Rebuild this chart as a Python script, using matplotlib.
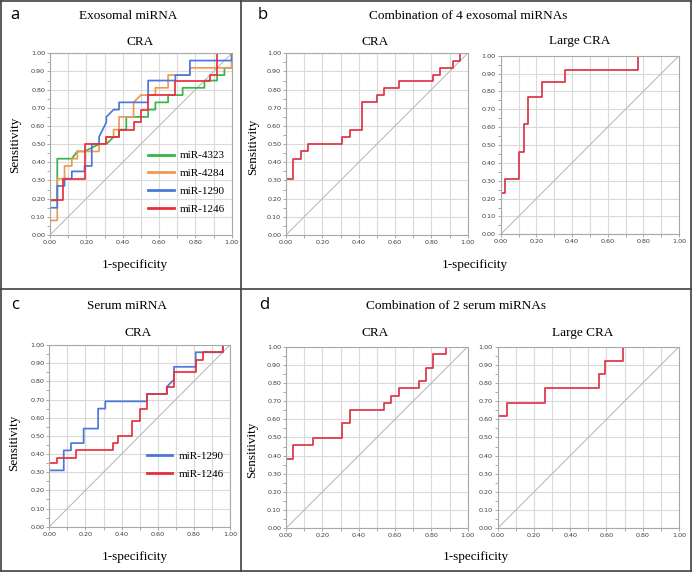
import numpy as np
import matplotlib
matplotlib.use('Agg')
import matplotlib.pyplot as plt
from matplotlib.lines import Line2D
from matplotlib.ticker import MultipleLocator, FormatStrFormatter

# ---- data (ROC step curves) ----
# panel a: exosomal miRNA, CRA
a_4323_x = [0, 0.04, 0.04, 0.12, 0.15, 0.19, 0.27, 0.31, 0.35, 0.38, 0.38, 0.42, 0.42, 0.54, 0.54, 0.58, 0.58, 0.65, 0.65, 0.73, 0.73, 0.85, 0.85, 0.92, 0.92, 0.96, 0.96, 1.0, 1.0]
a_4323_y = [0.19, 0.19, 0.42, 0.42, 0.46, 0.46, 0.50, 0.50, 0.54, 0.54, 0.58, 0.58, 0.65, 0.65, 0.69, 0.69, 0.73, 0.73, 0.77, 0.77, 0.81, 0.81, 0.85, 0.85, 0.88, 0.88, 0.92, 0.92, 1.0]
a_4284_x = [0, 0.04, 0.04, 0.08, 0.08, 0.12, 0.12, 0.15, 0.15, 0.27, 0.27, 0.31, 0.31, 0.35, 0.35, 0.38, 0.38, 0.46, 0.46, 0.50, 0.58, 0.58, 0.65, 0.65, 0.77, 0.77, 1.0, 1.0]
a_4284_y = [0.08, 0.08, 0.31, 0.31, 0.38, 0.38, 0.42, 0.42, 0.46, 0.46, 0.50, 0.50, 0.54, 0.54, 0.58, 0.58, 0.65, 0.65, 0.73, 0.77, 0.77, 0.81, 0.81, 0.88, 0.88, 0.92, 0.92, 1.0]
a_1290_x = [0, 0.04, 0.04, 0.08, 0.08, 0.12, 0.12, 0.19, 0.19, 0.23, 0.23, 0.27, 0.27, 0.31, 0.31, 0.35, 0.38, 0.38, 0.54, 0.54, 0.69, 0.69, 0.77, 0.77, 1.0, 1.0]
a_1290_y = [0.15, 0.15, 0.27, 0.27, 0.31, 0.31, 0.35, 0.35, 0.38, 0.38, 0.50, 0.50, 0.54, 0.62, 0.65, 0.69, 0.69, 0.73, 0.73, 0.85, 0.85, 0.88, 0.88, 0.96, 0.96, 1.0]
a_1246_x = [0, 0.07, 0.07, 0.19, 0.19, 0.31, 0.31, 0.38, 0.38, 0.46, 0.46, 0.50, 0.50, 0.54, 0.54, 0.69, 0.69, 0.88, 0.88, 0.92, 0.92, 1.0]
a_1246_y = [0.19, 0.19, 0.31, 0.31, 0.50, 0.50, 0.54, 0.54, 0.58, 0.58, 0.62, 0.62, 0.69, 0.69, 0.77, 0.77, 0.85, 0.85, 0.88, 0.88, 1.0, 1.0]

# panel b: combination of 4 exosomal miRNAs
b_cra_x = [0, 0.04, 0.04, 0.08, 0.08, 0.12, 0.12, 0.31, 0.31, 0.35, 0.35, 0.42, 0.42, 0.50, 0.50, 0.54, 0.54, 0.62, 0.62, 0.81, 0.81, 0.85, 0.85, 0.92, 0.92, 0.96, 0.96]
b_cra_y = [0.31, 0.31, 0.42, 0.42, 0.46, 0.46, 0.50, 0.50, 0.54, 0.54, 0.58, 0.58, 0.73, 0.73, 0.77, 0.77, 0.81, 0.81, 0.85, 0.85, 0.88, 0.88, 0.92, 0.92, 0.96, 0.96, 1.0]
b_large_x = [0, 0.026, 0.026, 0.103, 0.103, 0.128, 0.128, 0.154, 0.154, 0.23, 0.23, 0.36, 0.36, 0.77, 0.77]
b_large_y = [0.23, 0.23, 0.31, 0.31, 0.46, 0.46, 0.62, 0.62, 0.77, 0.77, 0.85, 0.85, 0.92, 0.92, 1.0]

# panel c: serum miRNA, CRA
c_1290_x = [0, 0.08, 0.08, 0.12, 0.12, 0.19, 0.19, 0.27, 0.27, 0.31, 0.31, 0.54, 0.54, 0.65, 0.65, 0.69, 0.69, 0.81, 0.81, 0.96, 0.96]
c_1290_y = [0.31, 0.31, 0.42, 0.42, 0.46, 0.46, 0.54, 0.54, 0.65, 0.65, 0.69, 0.69, 0.73, 0.73, 0.77, 0.81, 0.88, 0.88, 0.96, 0.96, 1.0]
c_1246_x = [0, 0.04, 0.04, 0.15, 0.15, 0.35, 0.35, 0.38, 0.38, 0.46, 0.46, 0.50, 0.50, 0.54, 0.54, 0.65, 0.65, 0.69, 0.69, 0.81, 0.81, 0.85, 0.85, 0.96, 0.96]
c_1246_y = [0.35, 0.35, 0.38, 0.38, 0.42, 0.42, 0.46, 0.46, 0.50, 0.50, 0.58, 0.58, 0.65, 0.65, 0.73, 0.73, 0.77, 0.77, 0.85, 0.85, 0.92, 0.92, 0.96, 0.96, 1.0]

# panel d: combination of 2 serum miRNAs
d_cra_x = [0, 0.04, 0.04, 0.15, 0.15, 0.31, 0.31, 0.35, 0.35, 0.54, 0.54, 0.58, 0.58, 0.62, 0.62, 0.73, 0.73, 0.77, 0.77, 0.81, 0.81, 0.88, 0.88]
d_cra_y = [0.38, 0.38, 0.46, 0.46, 0.50, 0.50, 0.58, 0.58, 0.65, 0.65, 0.69, 0.69, 0.73, 0.73, 0.77, 0.77, 0.81, 0.81, 0.88, 0.88, 0.96, 0.96, 1.0]
d_large_x = [0, 0.05, 0.05, 0.26, 0.26, 0.56, 0.56, 0.59, 0.59, 0.69, 0.69]
d_large_y = [0.62, 0.62, 0.69, 0.69, 0.77, 0.77, 0.85, 0.85, 0.92, 0.92, 1.0]

GREEN = '#35b548'
ORANGE = '#f09a4e'
BLUE = '#4a78dd'
RED = '#e8303c'
CRIMSON = '#dc3448'

SERIF = 'Liberation Serif'

fig = plt.figure(figsize=(6.94, 5.73), dpi=100)
W, H = 694.0, 573.0


def make_axes(x0, y0, x1, y1):
    # pixel box -> figure fraction
    ax = fig.add_axes([x0 / W, 1 - y1 / H, (x1 - x0) / W, (y1 - y0) / H])
    ax.set_xlim(0, 1)
    ax.set_ylim(0, 1)
    ax.xaxis.set_major_locator(MultipleLocator(0.2))
    ax.xaxis.set_minor_locator(MultipleLocator(0.1))
    ax.yaxis.set_major_locator(MultipleLocator(0.1))
    ax.yaxis.set_minor_locator(MultipleLocator(0.05))
    ax.xaxis.set_major_formatter(FormatStrFormatter('%.2f'))
    ax.yaxis.set_major_formatter(FormatStrFormatter('%.2f'))
    ax.grid(True, which='major', color='#dadada', lw=0.8)
    ax.grid(True, which='minor', axis='x', color='#dadada', lw=0.8)
    ax.tick_params(which='both', direction='out', length=2, width=0.6,
                   color='#9a9a9a', labelsize=4.6, labelcolor='#3a3a4a', pad=1.5)
    for s in ax.spines.values():
        s.set_color('#a8a8a8')
        s.set_linewidth(0.8)
    ax.set_axisbelow(True)
    ax.plot([0, 1], [0, 1], color='#b4b4b4', lw=0.7)
    return ax


def txt(x, y, s, size=9.5, family=SERIF, **kw):
    fig.text(x / W, 1 - y / H, s, fontsize=size, family=family,
             ha=kw.pop('ha', 'center'), va=kw.pop('va', 'center'), **kw)


# ---- panel a ----
ax = make_axes(50, 53.3, 231.7, 235)
ax.plot(a_4323_x, a_4323_y, color=GREEN, lw=1.25, label='miR-4323')
ax.plot(a_4284_x, a_4284_y, color=ORANGE, lw=1.25, label='miR-4284')
ax.plot(a_1290_x, a_1290_y, color=BLUE, lw=1.25, label='miR-1290')
ax.plot(a_1246_x, a_1246_y, color=RED, lw=1.25, label='miR-1246')
leg = ax.legend(loc='lower left', bbox_to_anchor=(0.485, 0.062), frameon=False,
                prop={'family': SERIF, 'size': 8}, handlelength=2.3,
                labelspacing=0.72, handletextpad=0.55)
for h in leg.get_lines():
    h.set_linewidth(2)

# ---- panel b ----
ax = make_axes(286, 53.3, 467.7, 235)
ax.plot(b_cra_x, b_cra_y, color=CRIMSON, lw=1.25)
ax = make_axes(500.7, 55.7, 679, 234.3)
ax.plot(b_large_x, b_large_y, color=CRIMSON, lw=1.25)

# ---- panel c ----
ax = make_axes(49.3, 345, 230, 526.7)
ax.plot(c_1290_x, c_1290_y, color=BLUE, lw=1.25, label='miR-1290')
ax.plot(c_1246_x, c_1246_y, color=RED, lw=1.25, label='miR-1246')
leg = ax.legend(loc='lower left', bbox_to_anchor=(0.485, 0.21), frameon=False,
                prop={'family': SERIF, 'size': 8}, handlelength=2.3,
                labelspacing=0.72, handletextpad=0.55)
for h in leg.get_lines():
    h.set_linewidth(2)

# ---- panel d ----
ax = make_axes(286, 346.7, 467.7, 528.3)
ax.plot(d_cra_x, d_cra_y, color=CRIMSON, lw=1.25)
ax = make_axes(497.7, 346.7, 679, 528.3)
ax.plot(d_large_x, d_large_y, color=CRIMSON, lw=1.25)

# ---- texts ----
LETTER = 'Open Sans'
txt(15, 15, 'a', size=12, family=LETTER)
txt(263, 15, 'b', size=12, family=LETTER)
txt(15, 305, 'c', size=12, family=LETTER)
txt(264, 305, 'd', size=12, family=LETTER)

txt(128, 16, 'Exosomal miRNA')
txt(468, 16, 'Combination of 4 exosomal miRNAs')
txt(127, 306, 'Serum miRNA')
txt(456, 306, 'Combination of 2 serum miRNAs')

txt(140, 42, 'CRA')
txt(375, 42, 'CRA')
txt(580, 41, 'Large CRA')
txt(138, 333, 'CRA')
txt(375, 333, 'CRA')
txt(583, 333, 'Large CRA')

txt(15, 145, 'Sensitivity', rotation=90)
txt(253, 147, 'Sensitivity', rotation=90)
txt(14, 443, 'Sensitivity', rotation=90)
txt(252, 450, 'Sensitivity', rotation=90)

txt(135, 265, '1-specificity')
txt(475, 265, '1-specificity')
txt(135, 557, '1-specificity')
txt(476, 557, '1-specificity')

# ---- frame lines around the panel groups ----
def hline(y, x0, x1):
    fig.add_artist(Line2D([x0 / W, x1 / W], [1 - y / H, 1 - y / H], color='#404040', lw=1.2))


def vline(x, y0, y1):
    fig.add_artist(Line2D([x / W, x / W], [1 - y0 / H, 1 - y1 / H], color='#404040', lw=1.2))


hline(1, 1, 691)
hline(289, 1, 691)
hline(571, 1, 691)
vline(1, 1, 571)
vline(691, 1, 571)
vline(241, 1, 571)

fig.savefig('out.png', dpi=100)
